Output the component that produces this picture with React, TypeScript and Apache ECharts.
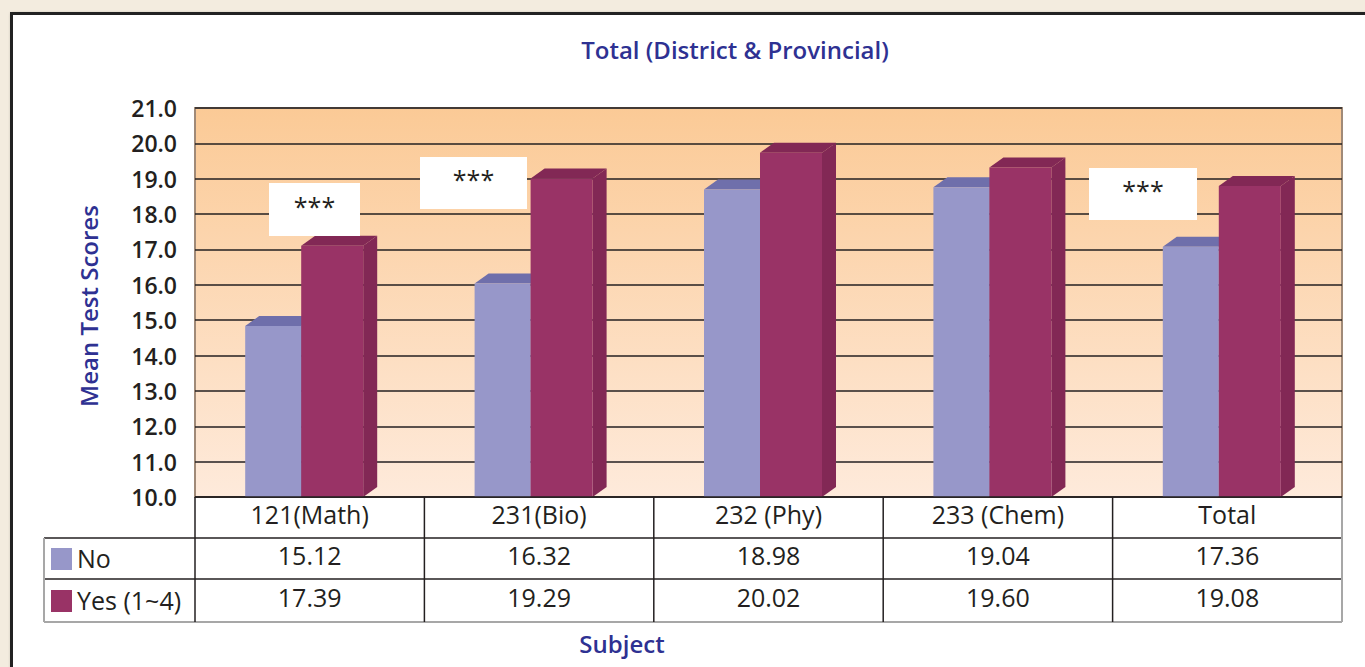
import React, { useEffect, useRef } from "react";
import * as echarts from "echarts";

const categories = ["121(Math)", "231(Bio)", "232 (Phy)", "233 (Chem)", "Total"];
const seriesNames = ["No", "Yes (1~4)"];
const noValues = [15.12, 16.32, 18.98, 19.04, 17.36];
const yesValues = [17.39, 19.29, 20.02, 19.6, 19.08];
const tableNo = ["15.12", "16.32", "18.98", "19.04", "17.36"];
const tableYes = ["17.39", "19.29", "20.02", "19.60", "19.08"];
const yMin = 10;
const yMax = 21;
const yInterval = 1;
const titleText = "Total (District & Provincial)";
const yAxisTitle = "Mean Test Scores";
const xAxisTitle = "Subject";
const starText = "***";

const GL = 195;
const GT = 108;
const GW = 1147;
const GH = 389;
const COLW = GW / categories.length;
const DX = 14;
const DY = 10;
const FONT = "'Open Sans', 'Noto Sans', sans-serif";
const TXT = "#231f20";
const NAVY = "#2e3192";

const noColors = { front: "#9797c9", top: "#6f6fab", side: "#6f6fab" };
const yesColors = { front: "#993366", top: "#822855", side: "#822855" };

function bar3D(offL: number, width: number, c: { front: string; top: string; side: string }) {
  return (params: any, api: any) => {
    const idx = api.value(0);
    const val = api.value(1);
    const p = api.coord([idx, val]);
    const b = api.coord([idx, yMin]);
    const x0 = p[0] + offL;
    const x1 = x0 + width;
    const yBack = p[1];
    const yFront = yBack + DY;
    const yBot = b[1];
    return {
      type: "group",
      children: [
        {
          type: "polygon",
          shape: { points: [[x1, yFront], [x1 + DX, yBack], [x1 + DX, yBot - DY], [x1, yBot]] },
          style: { fill: c.side },
        },
        {
          type: "polygon",
          shape: { points: [[x0, yFront], [x0 + DX, yBack], [x1 + DX, yBack], [x1, yFront]] },
          style: { fill: c.top },
        },
        {
          type: "rect",
          shape: { x: x0, y: yFront, width: width, height: yBot - yFront },
          style: { fill: c.front },
        },
      ],
    };
  };
}

export default function App() {
  const ref = useRef<HTMLDivElement>(null);
  useEffect(() => {
    if (!ref.current) return;
    const chart = echarts.init(ref.current, null, { renderer: "svg" });

    const graphics: any[] = [];
    graphics.push({
      type: "text", x: 735, y: 49,
      style: { text: titleText, font: `600 24px ${FONT}`, fill: NAVY, align: "center", verticalAlign: "middle" },
    });
    graphics.push({
      type: "text", x: 88, y: 306, rotation: Math.PI / 2,
      style: { text: yAxisTitle, font: `600 24px ${FONT}`, fill: NAVY, align: "center", verticalAlign: "middle" },
    });
    graphics.push({
      type: "text", x: 622, y: 643,
      style: { text: xAxisTitle, font: `600 24px ${FONT}`, fill: NAVY, align: "center", verticalAlign: "middle" },
    });

    const boxes = [
      { x: 269, y: 183, w: 91, h: 53 },
      { x: 420, y: 157, w: 107, h: 52 },
      { x: 1089, y: 168, w: 108, h: 52 },
    ];
    boxes.forEach((bx) => {
      graphics.push({ type: "rect", shape: { x: bx.x, y: bx.y, width: bx.w, height: bx.h }, style: { fill: "#ffffff" }, z: 10 });
      graphics.push({
        type: "text", x: bx.x + bx.w / 2, y: bx.y + bx.h / 2 - 4, z: 11,
        style: { text: starText, font: `25px ${FONT}`, fill: TXT, align: "center", verticalAlign: "middle" },
      });
    });

    const rowTop = [GT + GH, 538, 579];
    const rowBot = [538, 579, 622];
    const tableLeft = 44;
    const tableRight = GL + GW;
    const black = "#231f20";
    const gray = "#a7a7a7";
    graphics.push({ type: "line", shape: { x1: GL, y1: rowTop[0], x2: tableRight, y2: rowTop[0] }, style: { stroke: black, lineWidth: 1.5 }, z: 5 });
    graphics.push({ type: "line", shape: { x1: tableLeft, y1: 538, x2: tableRight, y2: 538 }, style: { stroke: black, lineWidth: 1.5 } });
    graphics.push({ type: "line", shape: { x1: tableLeft, y1: 579, x2: tableRight, y2: 579 }, style: { stroke: black, lineWidth: 1.5 } });
    graphics.push({ type: "line", shape: { x1: tableLeft, y1: 622, x2: tableRight, y2: 622 }, style: { stroke: gray, lineWidth: 2 } });
    graphics.push({ type: "line", shape: { x1: tableLeft, y1: 538, x2: tableLeft, y2: 622 }, style: { stroke: gray, lineWidth: 2 } });
    graphics.push({ type: "line", shape: { x1: tableRight, y1: rowTop[0], x2: tableRight, y2: 622 }, style: { stroke: gray, lineWidth: 2 } });
    for (let i = 0; i < categories.length; i++) {
      const x = GL + i * COLW;
      graphics.push({ type: "line", shape: { x1: x, y1: rowTop[0], x2: x, y2: 622 }, style: { stroke: black, lineWidth: 1.5 } });
    }
    const legendColors = [noColors.front, yesColors.front];
    for (let r = 0; r < 2; r++) {
      const yc = (rowTop[r + 1] + rowBot[r + 1]) / 2;
      graphics.push({ type: "rect", shape: { x: 51, y: yc - 10.5, width: 21, height: 22 }, style: { fill: legendColors[r] } });
      graphics.push({
        type: "text", x: 77, y: yc - 1,
        style: { text: seriesNames[r], font: `500 25px ${FONT}`, fill: TXT, align: "left", verticalAlign: "middle" },
      });
    }
    const rows = [tableNo, tableYes];
    for (let r = 0; r < 2; r++) {
      const yc = (rowTop[r + 1] + rowBot[r + 1]) / 2 - 4;
      rows[r].forEach((t, i) => {
        graphics.push({
          type: "text", x: GL + (i + 0.5) * COLW, y: yc,
          style: { text: t, font: `500 25px ${FONT}`, fill: TXT, align: "center", verticalAlign: "middle" },
        });
      });
    }

    chart.setOption({
      animation: false,
      grid: {
        left: GL, top: GT, width: GW, height: GH,
        show: true,
        backgroundColor: new echarts.graphic.LinearGradient(0, 0, 0, 1, [
          { offset: 0, color: "#fbca96" },
          { offset: 1, color: "#feeadb" },
        ]),
        borderColor: "#a08a78",
        borderWidth: 2,
      },
      xAxis: {
        type: "category",
        data: categories,
        axisLine: { show: false },
        axisTick: { show: false },
        axisLabel: { color: TXT, fontSize: 25, fontFamily: FONT, fontWeight: 500, margin: 4 },
      },
      yAxis: {
        type: "value",
        min: yMin, max: yMax, interval: yInterval,
        axisLine: { show: false },
        axisTick: { show: false },
        axisLabel: {
          color: TXT, fontSize: 23, fontFamily: FONT, fontWeight: 600, margin: 18,
          formatter: (v: number) => v.toFixed(1),
        },
        splitLine: { lineStyle: { color: "#231f20", width: 1.5 } },
      },
      series: [
        {
          name: seriesNames[0], type: "custom",
          renderItem: bar3D(-64.5, 56, noColors),
          data: noValues.map((v, i) => [i, v]),
          encode: { x: 0, y: 1 },
          z: 3,
        },
        {
          name: seriesNames[1], type: "custom",
          renderItem: bar3D(-8.5, 62, yesColors),
          data: yesValues.map((v, i) => [i, v]),
          encode: { x: 0, y: 1 },
          z: 4,
        },
      ],
      graphic: graphics,
    });
    return () => chart.dispose();
  }, []);

  return (
    <div style={{ position: "absolute", left: 0, top: 0, width: 1365, height: 667, background: "#f3ecdf", overflow: "hidden" }}>
      <div style={{ position: "absolute", left: 10, top: 12, width: 1400, height: 700, border: "3px solid #222", background: "#ffffff", boxShadow: "1px 1px 3px rgba(0,0,0,0.3)" }} />
      <div ref={ref} style={{ position: "absolute", left: 0, top: 0, width: 1365, height: 667 }} />
    </div>
  );
}
